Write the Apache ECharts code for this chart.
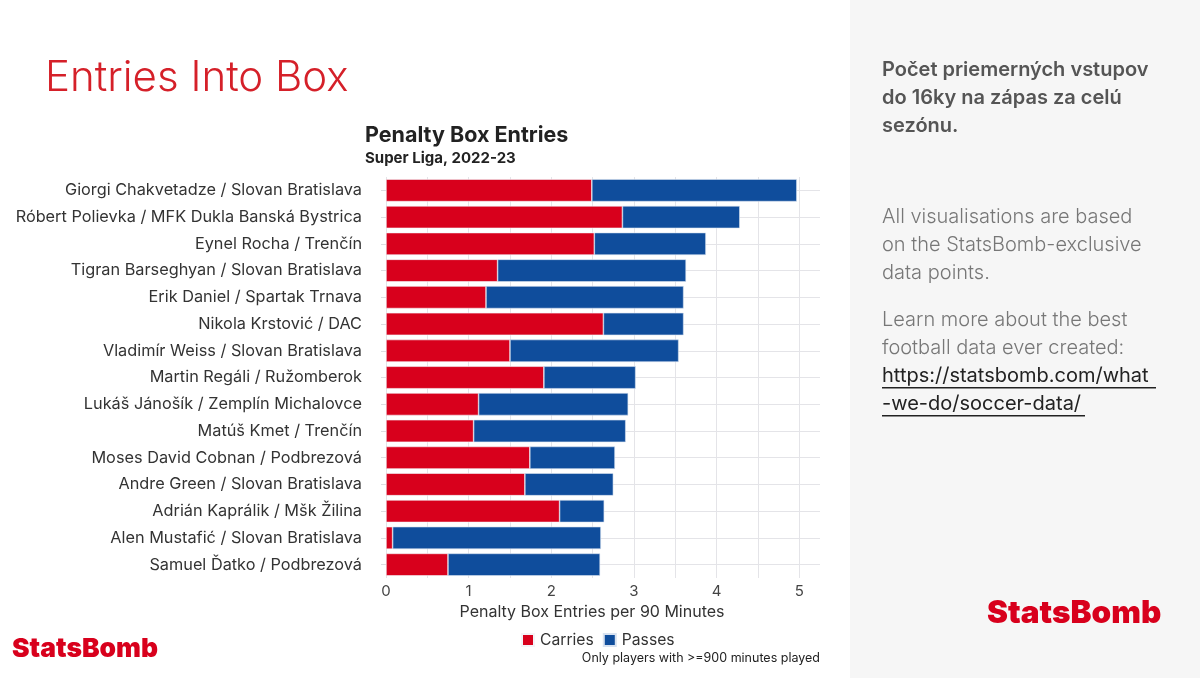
<!DOCTYPE html>
<html>
<head>
<meta charset="utf-8">
<script src="https://cdn.jsdelivr.net/npm/echarts@6/dist/echarts.min.js"></script>
<style>
  html, body { margin: 0; padding: 0; background: #fff; }
  #chart { width: 1200px; height: 678px; }
</style>
</head>
<body>
<div id="chart"></div>
<script>
var players = [
  'Giorgi Chakvetadze / Slovan Bratislava',
  'Róbert Polievka / MFK Dukla Banská Bystrica',
  'Eynel Rocha / Trenčín',
  'Tigran Barseghyan / Slovan Bratislava',
  'Erik Daniel / Spartak Trnava',
  'Nikola Krstović / DAC',
  'Vladimír Weiss / Slovan Bratislava',
  'Martin Regáli / Ružomberok',
  'Lukáš Jánošík / Zemplín Michalovce',
  'Matúš Kmet / Trenčín',
  'Moses David Cobnan / Podbrezová',
  'Andre Green / Slovan Bratislava',
  'Adrián Kaprálik / Mšk Žilina',
  'Alen Mustafić / Slovan Bratislava',
  'Samuel Ďatko / Podbrezová'
];
var carries = [2.49, 2.86, 2.52, 1.35, 1.21, 2.63, 1.50, 1.91, 1.12, 1.06, 1.74, 1.68, 2.10, 0.08, 0.75];
var passes  = [2.48, 1.42, 1.35, 2.28, 2.39, 0.97, 2.04, 1.11, 1.81, 1.84, 1.03, 1.07, 0.54, 2.52, 1.84];
var xTicks = [0, 1, 2, 3, 4, 5];

var RED = '#d8001c';
var BLUE = '#0f4d9c';
var FONT = 'Inter';

var myChart = echarts.init(document.getElementById('chart'));

// horizontal grid lines through the middle of each bar (ggplot style)
var rowLines = players.map(function (p) {
  return { yAxis: p };
});

var option = {
  backgroundColor: '#ffffff',
  textStyle: { fontFamily: FONT },
  grid: { left: 386, right: 380, top: 177, bottom: 100, containLabel: false },
  legend: {
    data: ['Carries', 'Passes'],
    left: 521,
    top: 632,
    padding: 0,
    icon: 'rect',
    itemWidth: 12,
    itemHeight: 12,
    itemGap: 9,
    textStyle: { fontSize: 15.7, color: '#333', fontFamily: FONT, padding: [0, 0, 0, 1] }
  },
  xAxis: {
    type: 'value',
    min: 0,
    max: 5.25,
    interval: 0.5,
    name: 'Penalty Box Entries per 90 Minutes',
    nameLocation: 'middle',
    nameGap: 25,
    nameTextStyle: { fontSize: 16, color: '#333', fontFamily: FONT, padding: [0, 22, 0, 0] },
    axisLine: { show: false },
    axisTick: { show: false },
    axisLabel: {
      fontSize: 15, color: '#444', margin: 6,
      formatter: function (v) {
        return xTicks.indexOf(v) >= 0 ? String(v) : '';
      }
    },
    splitLine: { show: true, showMaxLine: false, lineStyle: { color: '#e4e4e8', width: 1 } }
  },
  yAxis: {
    type: 'category',
    data: players,
    inverse: true,
    axisLine: { show: false },
    axisTick: { show: true, alignWithLabel: true, length: 5, lineStyle: { color: '#dcdce0' } },
    axisLabel: { fontSize: 16.3, color: '#333', margin: 24, fontFamily: FONT },
    splitLine: { show: false }
  },
  series: [
    {
      name: 'grid',
      type: 'line',
      data: [],
      z: 1,
      showSymbol: false,
      markLine: {
        silent: true,
        z: 1,
        symbol: 'none',
        label: { show: false },
        lineStyle: { color: '#e4e4e8', width: 1, type: 'solid' },
        data: rowLines
      }
    },
    {
      name: 'Carries',
      type: 'bar',
      stack: 'total',
      data: carries,
      z: 3,
      barCategoryGap: '16%',
      itemStyle: { color: RED, borderColor: '#f4f4f8', borderWidth: 0.6 }
    },
    {
      name: 'Passes',
      type: 'bar',
      stack: 'total',
      data: passes,
      z: 3,
      barCategoryGap: '16%',
      itemStyle: { color: BLUE, borderColor: '#d8e2f0', borderWidth: 0.6 }
    }
  ],
  graphic: [
    { type: 'rect', left: 850, top: 0, shape: { width: 350, height: 678 }, style: { fill: '#f6f6f6' }, silent: true },
    { type: 'text', left: 45, top: 57, style: { text: 'Entries Into Box', fontSize: 42, fontWeight: 300, fill: '#d52029', fontFamily: FONT } },
    { type: 'text', left: 365, top: 125, style: { text: 'Penalty Box Entries', fontSize: 21.5, fontWeight: 700, fill: '#222', fontFamily: FONT } },
    { type: 'text', left: 365, top: 151, style: { text: 'Super Liga, 2022-23', fontSize: 15, fontWeight: 700, fill: '#222', fontFamily: FONT } },
    { type: 'text', right: 380, top: 652, style: { text: 'Only players with >=900 minutes played', fontSize: 12.5, fill: '#222', fontFamily: FONT, align: 'right' } },
    { type: 'text', left: 12, top: 636, style: { text: 'StatsBomb', fontSize: 26.4, fontWeight: 900, fill: '#d8001c', fontFamily: FONT } },
    { type: 'text', left: 987, top: 598, style: { text: 'StatsBomb', fontSize: 31.5, fontWeight: 900, fill: '#d8001c', fontFamily: FONT } },
    { type: 'text', left: 882, top: 56, style: { text: 'Počet priemerných vstupov\ndo 16ky na zápas za celú\nsezónu.', fontSize: 20, lineHeight: 28, fontWeight: 600, fill: '#555', fontFamily: FONT } },
    { type: 'text', left: 882, top: 203, style: { text: 'All visualisations are based\non the StatsBomb-exclusive\ndata points.', fontSize: 20, lineHeight: 28, fontWeight: 300, fill: '#777', fontFamily: FONT } },
    { type: 'text', left: 882, top: 306, style: { text: 'Learn more about the best\nfootball data ever created:', fontSize: 20, lineHeight: 28, fontWeight: 300, fill: '#777', fontFamily: FONT } },
    { type: 'text', left: 882, top: 362, style: { text: 'https://statsbomb.com/what\n-we-do/soccer-data/', fontSize: 20, lineHeight: 28, fontWeight: 400, fill: '#222', fontFamily: FONT } },
    { type: 'rect', left: 882, top: 387, shape: { width: 274, height: 1.5 }, style: { fill: '#222' }, silent: true },
    { type: 'rect', left: 882, top: 415, shape: { width: 203, height: 1.5 }, style: { fill: '#222' }, silent: true }
  ]
};
myChart.setOption(option);
window.addEventListener('resize', function () {
  myChart.resize();
});
</script>
</body>
</html>
